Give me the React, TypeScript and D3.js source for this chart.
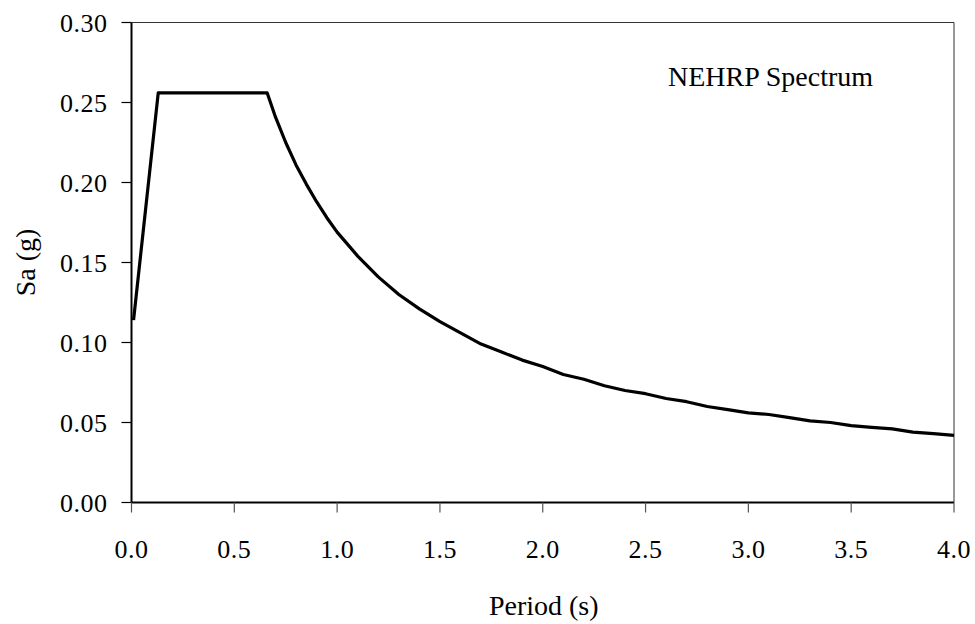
import React from "react";
import * as d3 from "d3";

const periods = [0.01, 0.13, 0.66, 0.7, 0.75, 0.8, 0.85, 0.9, 0.95, 1.0, 1.1, 1.2, 1.3, 1.4, 1.5, 1.6, 1.7, 1.8, 1.9, 2.0, 2.1, 2.2, 2.3, 2.4, 2.5, 2.6, 2.7, 2.8, 2.9, 3.0, 3.1, 3.2, 3.3, 3.4, 3.5, 3.6, 3.7, 3.8, 3.9, 4.0];
const saValues = [0.114, 0.256, 0.256, 0.241, 0.225, 0.211, 0.199, 0.188, 0.178, 0.169, 0.154, 0.141, 0.13, 0.121, 0.113, 0.106, 0.099, 0.094, 0.089, 0.085, 0.08, 0.077, 0.073, 0.07, 0.068, 0.065, 0.063, 0.06, 0.058, 0.056, 0.055, 0.053, 0.051, 0.05, 0.048, 0.047, 0.046, 0.044, 0.043, 0.042];
const xTicks = [0, 0.5, 1, 1.5, 2, 2.5, 3, 3.5, 4];
const yTicks = [0, 0.05, 0.1, 0.15, 0.2, 0.25, 0.3];
const seriesLabel = "NEHRP Spectrum";
const xTitle = "Period (s)";
const yTitle = "Sa (g)";

const W = 975, H = 624;
const L = 131.5, R = 954, T = 22.5, B = 502.5;
const font = "'Liberation Serif', 'Times New Roman', serif";

export default function App() {
  const x = d3.scaleLinear().domain([0, 4]).range([L, R]);
  const y = d3.scaleLinear().domain([0, 0.3]).range([B, T]);
  const data = periods.map((p, i) => [p, saValues[i]] as [number, number]);
  const line = d3.line<[number, number]>().x(d => x(d[0])).y(d => y(d[1]));
  return (
    <svg width={W} height={H} style={{ position: "absolute", left: 0, top: 0, background: "#fff" }}>
      <rect x={0} y={0} width={W} height={H} fill="#fff" />
      <line x1={L} x2={R} y1={T} y2={T} stroke="#333" strokeWidth={1} />
      <line x1={R} x2={R} y1={T} y2={B} stroke="#333" strokeWidth={1} />
      <line x1={L} x2={L} y1={T} y2={B} stroke="#000" strokeWidth={2} />
      <line x1={L} x2={R} y1={B} y2={B} stroke="#000" strokeWidth={2} />
      {yTicks.map(t => (
        <g key={"y" + t}>
          <line x1={L - 10} x2={L} y1={y(t)} y2={y(t)} stroke="#000" strokeWidth={1.2} />
          <text x={L - 24} y={y(t)} dy="0.35em" textAnchor="end" fontFamily={font} fontSize={26} letterSpacing={0.5} fill="#000">
            {t.toFixed(2)}
          </text>
        </g>
      ))}
      {xTicks.map(t => (
        <g key={"x" + t}>
          <line x1={x(t)} x2={x(t)} y1={B} y2={B + 10} stroke="#555" strokeWidth={1.2} />
          <text x={x(t)} y={558} textAnchor="middle" fontFamily={font} fontSize={26} letterSpacing={0.5} fill="#000">
            {t.toFixed(1)}
          </text>
        </g>
      ))}
      <path d={line(data) || ""} fill="none" stroke="#000" strokeWidth={3.2} strokeLinejoin="round" />
      <text x={668} y={86} textAnchor="start" fontFamily={font} fontSize={28} fill="#000">{seriesLabel}</text>
      <text x={(L + R) / 2 + 1} y={615} textAnchor="middle" fontFamily={font} fontSize={28} fill="#000">{xTitle}</text>
      <text transform={`translate(35, ${(T + B) / 2}) rotate(-90)`} textAnchor="middle" fontFamily={font} fontSize={28} fill="#000">{yTitle}</text>
    </svg>
  );
}
